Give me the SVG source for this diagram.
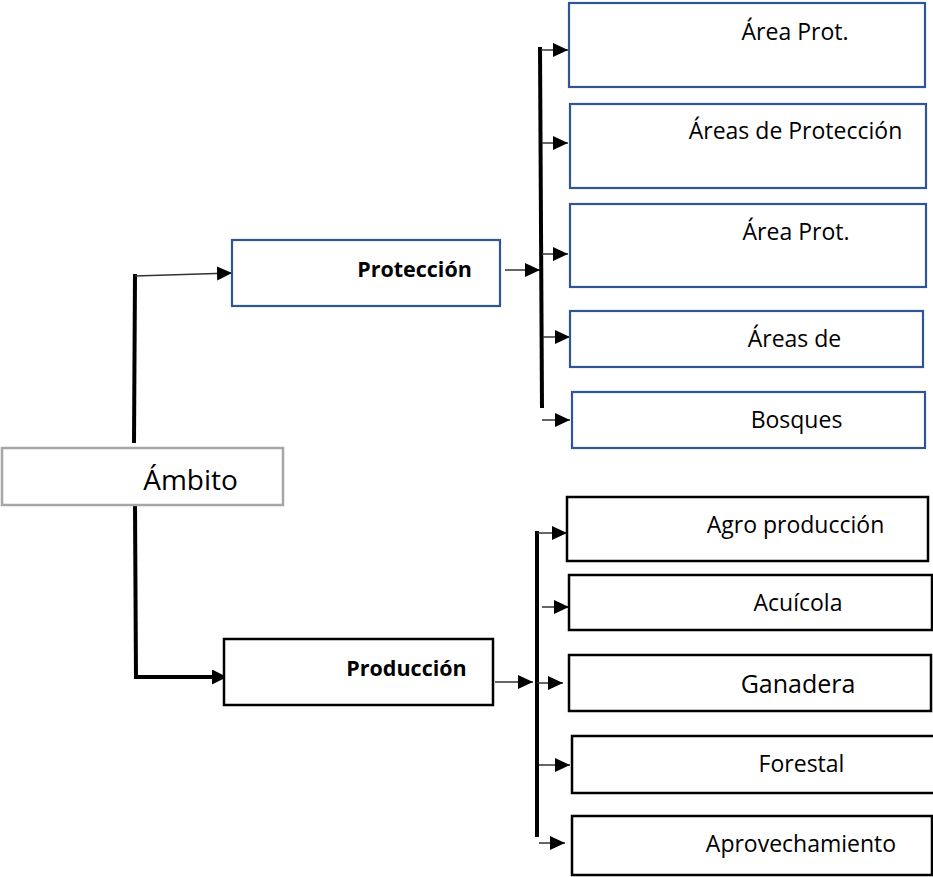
<svg xmlns="http://www.w3.org/2000/svg" width="933" height="877" viewBox="0 0 933 877">
<defs>
<style>
.blue{fill:#fff;stroke:#2F5597;stroke-width:2.2}
.blk{fill:#fff;stroke:#000;stroke-width:2.5}
.gray{fill:#fff;stroke:#A6A6A6;stroke-width:2.5}
.t{font-family:"Open Sans","Liberation Sans",sans-serif;font-size:23px;fill:#000;text-anchor:middle}
.b{font-weight:bold;font-size:21.5px}
.thin{stroke:#333;stroke-width:1.5;fill:none}
.thick{stroke:#000;stroke-width:4;fill:none}
</style>
<marker id="ah" markerUnits="userSpaceOnUse" markerWidth="16" markerHeight="15" refX="15" refY="7" orient="auto">
<path d="M0,0 L15,7 L0,14 z" fill="#000"/>
</marker>
<marker id="ahT" markerUnits="userSpaceOnUse" markerWidth="16" markerHeight="15" refX="5" refY="7.5" orient="auto">
<path d="M0,0 L15,7.5 L0,15 z" fill="#000"/>
</marker>
</defs>
<rect width="933" height="877" fill="#fff"/>
<g id="connectors">
<line class="thick" x1="134" y1="443" x2="135" y2="274"/>
<line class="thin" x1="135" y1="276" x2="232" y2="273" marker-end="url(#ah)"/>
<line class="thin" x1="505" y1="270" x2="540" y2="270" marker-end="url(#ah)"/>
<line class="thick" x1="540" y1="47" x2="542" y2="408"/>
<line class="thin" x1="541" y1="50" x2="568" y2="50" marker-end="url(#ah)"/>
<line class="thin" x1="542" y1="143" x2="568" y2="143" marker-end="url(#ah)"/>
<line class="thin" x1="542" y1="254" x2="568" y2="254" marker-end="url(#ah)"/>
<line class="thin" x1="543" y1="337" x2="570" y2="337" marker-end="url(#ah)"/>
<line class="thin" x1="542" y1="420" x2="570" y2="420" marker-end="url(#ah)"/>
<line class="thick" x1="135" y1="505" x2="136" y2="679"/>
<line class="thick" x1="134" y1="677" x2="217" y2="677" marker-end="url(#ahT)"/>
<line class="thin" x1="495" y1="682" x2="533" y2="682" marker-end="url(#ah)"/>
<line class="thick" x1="537" y1="531" x2="537" y2="837"/>
<line class="thin" x1="537" y1="533" x2="567" y2="533" marker-end="url(#ah)"/>
<line class="thin" x1="542" y1="607" x2="569" y2="607" marker-end="url(#ah)"/>
<line class="thin" x1="537" y1="683" x2="563" y2="683" marker-end="url(#ah)"/>
<line class="thin" x1="539" y1="765" x2="570" y2="765" marker-end="url(#ah)"/>
<line class="thin" x1="539" y1="843" x2="565" y2="843" marker-end="url(#ah)"/>
</g>
<g id="ambito">
<rect class="gray" x="2" y="448" width="281" height="57"/>
<text class="t" x="190.5" y="490" style="font-size:28px">Ámbito</text>
</g>
<g id="proteccion">
<rect class="blue" x="232" y="240" width="268" height="66"/>
<text class="t b" x="414.5" y="277">Protección</text>
</g>
<g id="produccion">
<rect class="blk" x="224" y="639" width="269" height="66"/>
<text class="t b" x="406.5" y="676">Producción</text>
</g>
<g id="p1">
<rect class="blue" x="569" y="3" width="356" height="84"/>
<text class="t" x="795" y="40">Área Prot.</text>
</g>
<g id="p2">
<rect class="blue" x="570" y="104" width="356" height="84"/>
<text class="t" x="795.5" y="139">Áreas de Protección</text>
</g>
<g id="p3">
<rect class="blue" x="570" y="204" width="356" height="83"/>
<text class="t" x="796" y="240">Área Prot.</text>
</g>
<g id="p4">
<rect class="blue" x="570" y="311" width="353" height="56"/>
<text class="t" x="794.5" y="347">Áreas de</text>
</g>
<g id="p5">
<rect class="blue" x="572" y="392" width="353" height="56"/>
<text class="t" x="796.5" y="428">Bosques</text>
</g>
<g id="r1">
<rect class="blk" x="567" y="497" width="361" height="64"/>
<text class="t" x="795.5" y="533">Agro producción</text>
</g>
<g id="r2">
<rect class="blk" x="569" y="575" width="363" height="55"/>
<text class="t" x="798" y="611">Acuícola</text>
</g>
<g id="r3">
<rect class="blk" x="569" y="655" width="362" height="56"/>
<text class="t" x="798" y="693" style="font-size:25px">Ganadera</text>
</g>
<g id="r4">
<rect class="blk" x="572" y="736" width="364" height="57"/>
<text class="t" x="801.5" y="772">Forestal</text>
</g>
<g id="r5">
<rect class="blk" x="572" y="816" width="360" height="59"/>
<text class="t" x="801" y="852">Aprovechamiento</text>
</g>
</svg>
